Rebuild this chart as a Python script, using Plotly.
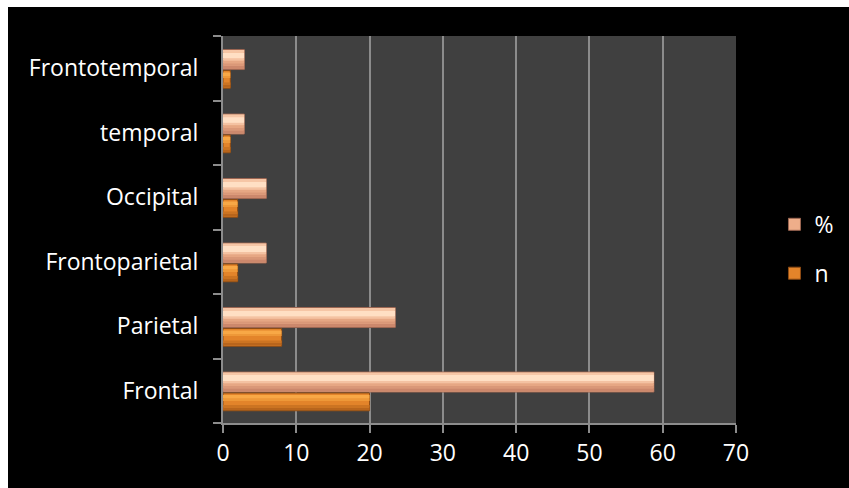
import plotly.graph_objects as go

# Lesion localisation: counts and percentages
regions = ["Frontal", "Parietal", "Frontoparietal", "Occipital", "temporal", "Frontotemporal"]
n_values = [20, 8, 2, 2, 1, 1]
pct_values = [58.8, 23.5, 5.9, 5.9, 2.9, 2.9]
x_ticks = [0, 10, 20, 30, 40, 50, 60, 70]

FONT = "'Open Sans', Lato, sans-serif"

fig = go.Figure()


def bevel_bar(values, name, offset, width, colors, bands):
    """Main bar plus shaded bands that give a bevelled look."""
    mid, edge = colors
    fig.add_trace(go.Bar(
        y=regions, x=values, name=name, orientation="h",
        offset=offset, width=width, legendgroup=name,
        marker=dict(color=mid, line=dict(color=edge, width=1)),
    ))
    for b_off, b_w, b_col in bands:
        fig.add_trace(go.Bar(
            y=regions, x=values, orientation="h", showlegend=False,
            offset=b_off, width=b_w, legendgroup=name, hoverinfo="skip",
            marker=dict(color=b_col, line=dict(width=0)),
        ))


# % bars (upper slot of each category)
bevel_bar(pct_values, "%", -0.02, 0.31, ("#EEAE8A", "#9C6652"), [
    (-0.012, 0.05, "#CC886C"),
    (0.038, 0.04, "#DA9878"),
    (0.078, 0.04, "#E6A784"),
    (0.118, 0.035, "#F4C2A2"),
    (0.153, 0.09, "#FFDFC4"),
    (0.243, 0.04, "#F6C6A6"),
])
# n bars (lower slot of each category)
bevel_bar(n_values, "n", -0.31, 0.275, ("#E3842A", "#8E4C14"), [
    (-0.30, 0.04, "#B8651C"),
    (-0.26, 0.04, "#CC7422"),
    (-0.145, 0.025, "#EE9838"),
    (-0.12, 0.055, "#F8A846"),
])

fig.update_layout(
    width=849, height=488,
    paper_bgcolor="#000000",
    plot_bgcolor="#404040",
    barmode="overlay",
    margin=dict(l=223, r=113, t=36, b=65, autoexpand=False),
    font=dict(family=FONT, color="#FFFFFF", size=23),
    showlegend=True,
    legend=dict(
        x=1.075, xanchor="left",
        y=0.45, yanchor="middle",
        traceorder="grouped",
        tracegroupgap=16,
        font=dict(size=23, color="#FFFFFF"),
        bgcolor="rgba(0,0,0,0)",
        itemwidth=30,
    ),
)

fig.update_xaxes(
    range=[0, 70], tickvals=x_ticks,
    showgrid=True, gridcolor="#8C8C8C", gridwidth=2,
    zeroline=False,
    showline=True, linecolor="#8C8C8C", linewidth=2,
    ticks="outside", ticklen=8, tickcolor="#8C8C8C", tickwidth=2,
    tickfont=dict(size=23, color="#FFFFFF"),
)
fig.update_yaxes(
    categoryorder="array", categoryarray=regions,
    showgrid=False, zeroline=False,
    showline=True, linecolor="#8C8C8C", linewidth=2,
    ticks="outside", tickson="boundaries", ticklen=8, tickcolor="#8C8C8C", tickwidth=2,
    tickfont=dict(size=23, color="#FFFFFF"),
    ticklabelstandoff=18,
)

# white strip along the top and left edges of the page
fig.add_shape(type="rect", xref="paper", yref="paper",
              x0=-223/513, x1=(849-223)/513, y0=1 + 29/387, y1=1 + 40/387,
              fillcolor="#FFFFFF", line=dict(width=0), layer="above")
fig.add_shape(type="rect", xref="paper", yref="paper",
              x0=-223/513, x1=-215/513, y0=-70/387, y1=1 + 40/387,
              fillcolor="#FFFFFF", line=dict(width=0), layer="above")

fig.write_html("out.html")
